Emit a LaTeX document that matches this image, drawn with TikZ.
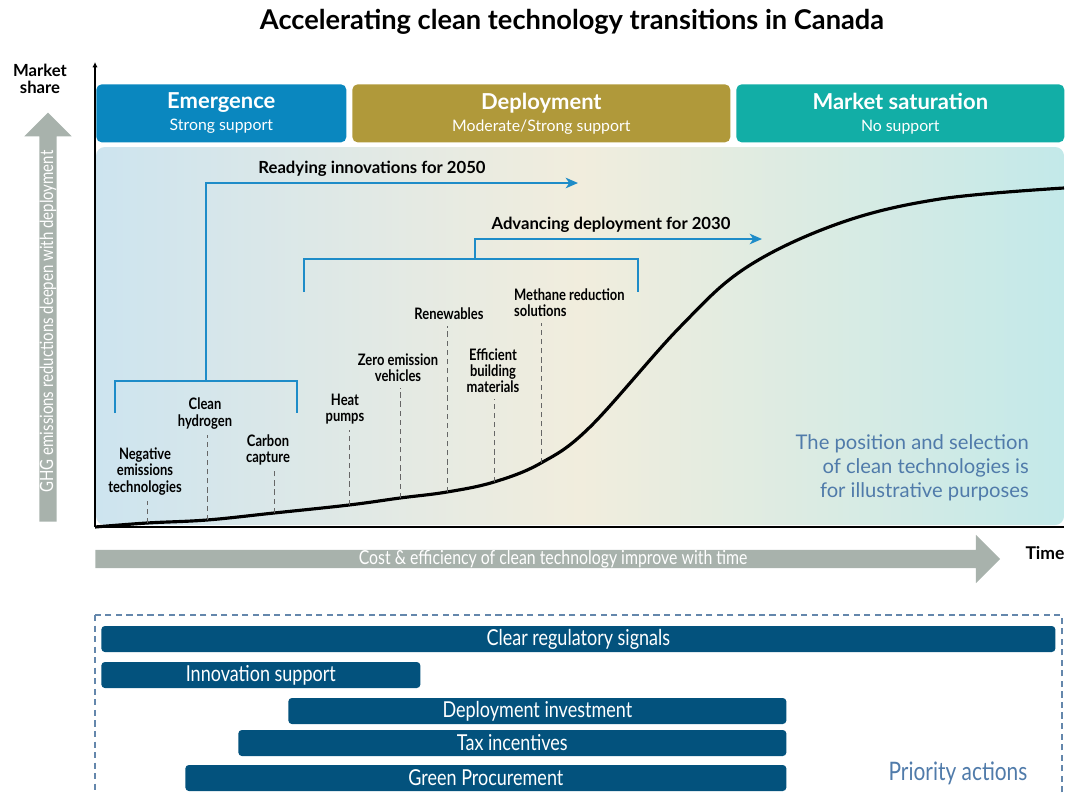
\documentclass[tikz,border=0pt]{standalone}
\usepackage{fontspec}
\setmainfont{Lato}
\newfontfamily\condfont[FakeStretch=0.82]{Lato}
\usetikzlibrary{arrows.meta, positioning, shapes.arrows}

\definecolor{emergeblue}{RGB}{10,135,191}
\definecolor{deployolive}{RGB}{176,153,58}
\definecolor{saturteal}{RGB}{18,174,166}
\definecolor{panelleft}{RGB}{205,228,239}
\definecolor{panelmid}{RGB}{241,237,221}
\definecolor{panelright}{RGB}{195,233,233}
\definecolor{bracketblue}{RGB}{30,140,200}
\definecolor{arrowgray}{RGB}{168,178,172}
\definecolor{bardark}{RGB}{3,82,125}
\definecolor{noteblue}{RGB}{80,123,170}
\definecolor{boxblue}{RGB}{100,135,172}

\begin{document}
\begin{tikzpicture}[
    x=0.02cm, y=-0.02cm,
    phasebox/.style={rounded corners=3pt, text=white, align=center, anchor=north west,
                      minimum height=1.16cm, inner sep=0pt, font=\fontsize{9}{12.5}\selectfont},
    techlabel/.style={align=center, anchor=south, inner sep=1pt,
                      font=\fontsize{9}{9.2}\selectfont\condfont\bfseries},
    brlabel/.style={font=\fontsize{9.5}{10}\selectfont\bfseries},
    leader/.style={gray!80!black, line width=0.5pt, dash pattern=on 3pt off 2.2pt, shorten >=2pt},
    bracket/.style={bracketblue, line width=1.1pt},
    actionbar/.style={fill=bardark, rounded corners=2pt, text=white, minimum height=0.52cm,
                      inner sep=0pt, font=\fontsize{12.5}{14}\selectfont\condfont},
    bigarrow/.style={single arrow, fill=arrowgray, text=white, inner sep=0pt,
                     single arrow head extend=0.3cm, single arrow tip angle=90,
                     font=\fontsize{11}{12}\selectfont\condfont}
]
\useasboundingbox (0,0) rectangle (1065,792);

% Title
\node[font=\fontsize{15.5}{17}\selectfont\bfseries] (title) at (572,22) {Accelerating clean technology transitions in Canada};

% Axis labels
\node[align=center, font=\fontsize{9.5}{10}\selectfont\bfseries] (yaxis_label) at (40,79) {Market\\share};

% Background panel
\shade[rounded corners=5pt, left color=panelleft, right color=panelright, middle color=panelmid]
    (96,147) rectangle (1064,525);

% Phases
\node[phasebox, fill=emergeblue, minimum width=5cm] (emergence) at (96,84)
    {\rule{0pt}{8pt}{\fontsize{12.5}{12.5}\selectfont\bfseries Emergence}\\Strong support};
\node[phasebox, fill=deployolive, minimum width=7.56cm] (deployment) at (352,84)
    {\rule{0pt}{8pt}{\fontsize{12.5}{12.5}\selectfont\bfseries Deployment}\\Moderate/Strong support};
\node[phasebox, fill=saturteal, minimum width=6.56cm] (saturation) at (736,84)
    {\rule{0pt}{8pt}{\fontsize{12.5}{12.5}\selectfont\bfseries Market saturation}\\No support};

% Axes
\coordinate (origin) at (95,527);
\coordinate (ytop) at (95,62);
\coordinate (xend) at (1064,527);
\draw[line width=0.9pt, -{Latex[length=3pt, width=3pt]}] (origin) -- (ytop);
\draw[line width=0.9pt] (origin) -- (xend);

% Side arrows
\node[bigarrow, rotate=90, anchor=tail, minimum height=8.18cm, minimum width=0.58cm,
      font=\fontsize{10.4}{12}\selectfont\condfont] (ghg_arrow) at (48,522)
    {GHG emissions reductions deepen with deployment\hspace{0.3cm}};
\node[bigarrow, anchor=tail, minimum height=18.1cm, minimum width=0.56cm] (cost_arrow) at (95,559)
    {\hspace{0.4cm}Cost \& efficiency of clean technology improve with time};
\node[font=\fontsize{10}{12}\selectfont\bfseries] (time_label) at (1045,553) {Time};

% Technologies along the curve
\foreach \i/\cx/\cy/\lx/\ly/\txt in {
    1/147/523/145/497/{Negative\\emissions\\technologies},
    2/207/520/205/431/{Clean\\hydrogen},
    3/274/513/268/467/{Carbon\\capture},
    4/349/505/345/426/{Heat\\pumps},
    5/400/498/398/384/{Zero emission\\vehicles},
    6/447/492/449/322/{Renewables},
    7/494/482/493/395/{Efficient\\building\\materials}} {
    \coordinate (crv\i) at (\cx,\cy);
    \node[techlabel] (lbl\i) at (\lx,\ly) {\txt};
}
\coordinate (crv8) at (541,463);
\node[techlabel, align=left, anchor=south west] (lbl8) at (512,319) {Methane reduction\\solutions};

% Adoption curve
\draw[line width=1.8pt] plot[smooth, tension=0.6] coordinates {(origin) (crv1) (crv2) (crv3) (crv4) (crv5) (crv6) (crv7) (crv8)
    (590,427) (680,327) (747,267) (840,223) (940,199) (1064,188)};

\foreach \i in {1,...,8} {
    \draw[leader] (crv\i) -- (lbl\i.south -| crv\i);
}

% Brackets
\coordinate (ready_l) at (115,413);
\coordinate (ready_mid) at (206,381);
\coordinate (ready_r) at (297,413);
\coordinate (ready_tip) at (578,183);
\draw[bracket] (ready_l) |- (ready_mid) -| (ready_r);
\draw[bracket, -{Stealth[length=7pt, width=6pt, inset=2pt]}] (ready_mid) |- (ready_tip);
\node[brlabel] (ready_title) at (372,169) {Readying innovations for 2050};

\coordinate (adv_l) at (304,292);
\coordinate (adv_mid) at (475,259);
\coordinate (adv_r) at (638,292);
\coordinate (adv_tip) at (762,239);
\draw[bracket] (adv_l) |- (adv_mid) -| (adv_r);
\draw[bracket, -{Stealth[length=7pt, width=6pt, inset=2pt]}] (adv_mid) |- (adv_tip);
\node[brlabel] (adv_title) at (611,225) {Advancing deployment for 2030};

% Note
\node[align=right, anchor=east, text=noteblue, font=\fontsize{11.5}{13.6}\selectfont] (note) at (1035,468)
    {The position and selection\\of clean technologies is\\for illustrative purposes};

% Priority actions
\draw[boxblue, line width=0.7pt, dash pattern=on 3.5pt off 2.5pt] (95,615) rectangle (1062,800);
\foreach \i/\xa/\xb/\yc/\txt in {
    1/101/1055/639/Clear regulatory signals,
    2/101/420/675/Innovation support,
    3/288/786/711/Deployment investment,
    4/238/786/743/Tax incentives,
    5/185/786/778/Green Procurement} {
    \pgfmathsetmacro{\w}{(\xb-\xa)*0.02}
    \node[actionbar, minimum width=\w cm, anchor=west] (bar\i) at (\xa,\yc) {\txt};
}
\node[text=noteblue, font=\fontsize{14.5}{16}\selectfont\condfont] (priority) at (958,773) {Priority actions};

\end{tikzpicture}
\end{document}
